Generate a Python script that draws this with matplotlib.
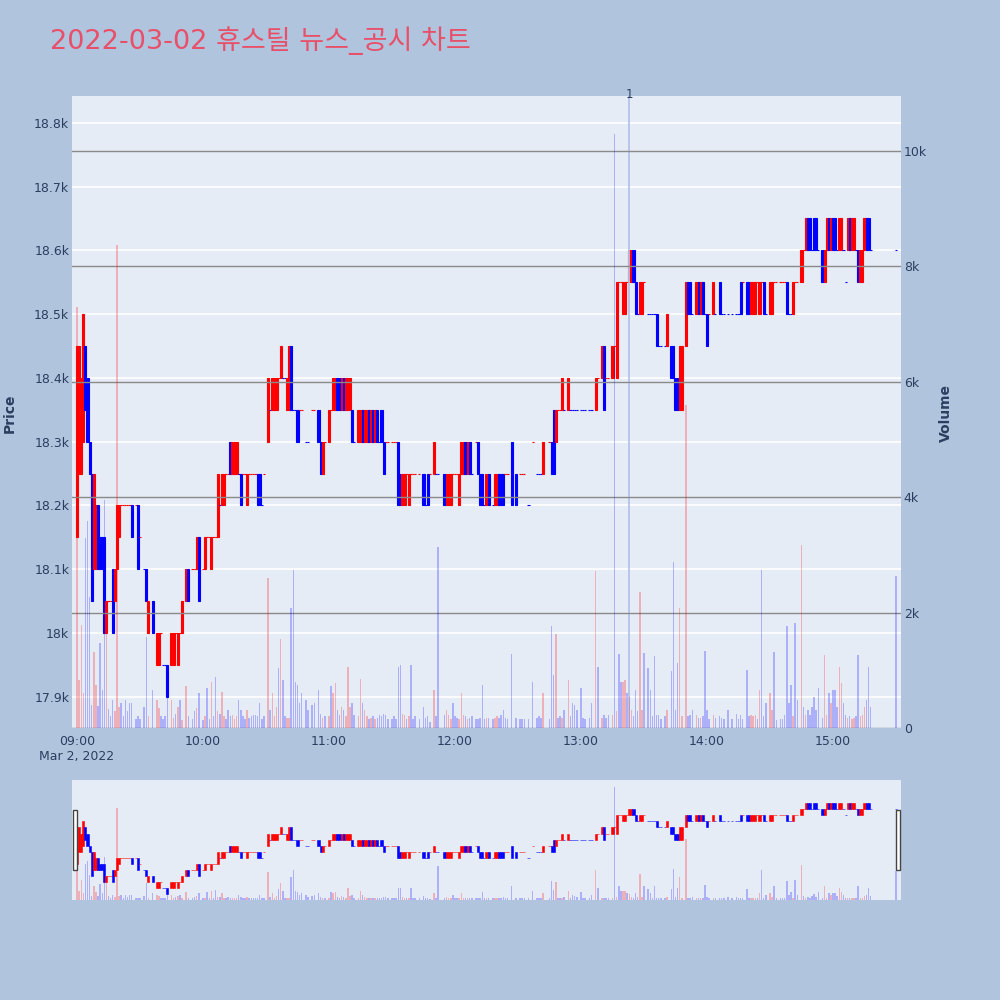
import matplotlib
matplotlib.use("Agg")
import matplotlib.pyplot as plt
from matplotlib.patches import Rectangle

N = None
# one entry per minute from 09:00 (index 0) to 15:30 (index 390)
opens = [
    18150,18250,18250,18300,18450,18400,18300,18250,18100,18100,
    18200,18150,18150,18150,18000,18050,18050,18100,18050,18100,
    18150,18200,18200,18200,18200,18200,18200,N,18200,18200,
    18150,N,18100,18100,18000,N,18050,N,17950,17950,
    18000,17950,17950,17950,N,17950,17950,18000,17950,18000,
    18000,N,18050,18100,N,18100,18100,18100,18150,N,
    18100,18100,18150,18150,18100,18150,18150,18150,18200,18200,
    18200,18250,18250,18300,18250,18250,18250,18250,18250,18250,
    18250,18200,18250,18250,18250,18250,18250,18250,18200,18250,
    N,18300,18350,18350,18350,18350,18400,18400,18400,18400,
    18350,18350,18450,18350,18350,18350,18350,18350,N,18300,
    18300,N,18350,18350,N,18350,18300,18250,18300,N,
    18300,18350,18350,18350,18400,18400,18350,18400,18350,18350,
    18350,18350,18300,N,18300,18300,18350,18300,18300,18350,
    18300,18350,18300,18350,18300,18350,18300,18300,18300,N,
    18300,18300,18300,18300,18250,18200,18200,18250,18200,18250,
    18250,18250,N,18250,N,18250,18200,18250,18250,N,
    18250,18250,18250,N,N,18250,18200,18200,18200,18250,
    18250,18250,18200,18250,18250,18300,18250,18300,18250,N,
    18300,18300,18250,18250,18200,18200,18250,N,18200,18200,
    18200,18250,18250,18250,18250,18250,N,18300,N,18250,
    N,18250,18250,18250,N,18200,N,18300,N,18250,
    18250,18250,18250,N,N,18300,18300,18350,18300,18350,
    18350,18350,18350,N,18350,18350,18350,18350,18350,N,
    18350,18350,18350,N,18350,18350,N,18350,18400,N,
    18400,18450,18400,18400,N,18400,18450,18400,18550,18550,
    18500,18500,18550,18550,18550,18600,18550,18500,18500,18500,
    18550,N,18500,18500,18500,18500,18500,18450,18450,N,
    18450,18450,N,18450,18450,18400,18400,18350,18350,N,
    18450,18550,18550,18500,N,18500,18550,18500,18550,18500,
    18500,18500,N,18500,18500,N,18550,18500,18500,N,
    18500,N,18500,N,18500,18500,18550,18550,N,18550,
    18550,18500,18500,18500,18550,18500,18550,18550,18500,N,
    18500,18500,18550,18550,N,18550,18550,18550,18550,18500,
    18500,18500,18550,18550,N,18550,18600,18600,18650,18650,
    18600,18650,18650,18600,N,18600,18550,18600,18650,18600,
    18650,18650,18600,18600,18600,18600,18550,18600,18650,18600,
    18600,18600,18600,18550,18550,18600,18650,18650,18600,N,
    N,N,N,N,N,N,N,N,N,N,
    18600,
]
closes = [
    18450,18450,18400,18500,18350,18300,18250,18050,18250,18200,
    18100,18100,18100,18000,18050,18050,18050,18000,18100,18200,
    18200,18200,18200,18200,18200,18200,18150,N,18200,18100,
    18150,N,18100,18050,18050,N,18000,N,18000,18000,
    18000,17950,17950,17900,N,18000,18000,18000,18000,18000,
    18050,N,18100,18050,N,18100,18100,18150,18050,N,
    18100,18150,18150,18150,18150,18150,18150,18250,18200,18250,
    18250,18250,18250,18250,18300,18300,18300,18250,18200,18250,
    18250,18250,18250,18250,18250,18250,18200,18200,18200,18250,
    N,18400,18350,18400,18400,18400,18400,18450,18400,18400,
    18400,18450,18350,18350,18350,18300,18350,18350,N,18300,
    18300,N,18350,18350,N,18300,18250,18300,18300,N,
    18350,18350,18400,18400,18350,18350,18400,18350,18400,18400,
    18400,18300,18300,N,18350,18350,18300,18350,18350,18300,
    18350,18300,18350,18300,18300,18300,18250,18300,18300,N,
    18300,18300,18300,18200,18200,18250,18250,18250,18250,18250,
    18250,18250,N,18250,N,18200,18200,18200,18250,N,
    18300,18250,18250,N,N,18200,18250,18250,18250,18250,
    18250,18250,18250,18300,18300,18250,18300,18250,18250,N,
    18300,18250,18200,18200,18200,18250,18200,N,18200,18250,
    18250,18200,18200,18200,18250,18250,N,18200,N,18200,
    N,18250,18250,18250,N,18200,N,18300,N,18250,
    18250,18250,18300,N,N,18300,18250,18250,18350,18350,
    18350,18400,18350,N,18400,18350,18350,18350,18350,N,
    18350,18350,18350,N,18350,18350,N,18400,18400,N,
    18450,18350,18400,18400,N,18450,18450,18550,18550,18550,
    18550,18550,18550,18600,18600,18550,18500,18500,18550,18550,
    18550,N,18500,18500,18500,18500,18450,18450,18450,N,
    18450,18500,N,18400,18400,18350,18350,18450,18450,N,
    18550,18500,18500,18500,N,18550,18500,18550,18500,18500,
    18450,18500,N,18550,18500,N,18500,18500,18500,N,
    18500,N,18500,N,18500,18500,18500,18550,N,18500,
    18500,18550,18550,18550,18550,18550,18550,18500,18500,N,
    18550,18550,18550,18550,N,18550,18550,18550,18500,18500,
    18500,18550,18550,18550,N,18600,18600,18650,18600,18600,
    18600,18600,18600,18600,N,18550,18600,18650,18600,18650,
    18600,18600,18600,18650,18650,18600,18550,18650,18600,18650,
    18650,18600,18550,18600,18600,18650,18600,18600,18600,N,
    N,N,N,N,N,N,N,N,N,N,
    18600,
]
volumes = [
    7300,830,1790,600,3290,3580,2270,400,1320,745,
    380,1470,660,3950,1770,330,215,485,300,8360,
    370,430,200,485,300,430,430,0,150,200,
    150,0,370,1580,200,0,660,0,485,350,
    200,150,200,660,0,485,165,250,370,485,
    140,0,720,200,0,150,300,350,600,0,
    140,200,700,150,800,200,890,300,250,630,
    200,150,310,200,225,150,200,485,310,200,
    150,310,165,200,225,225,200,430,150,200,
    0,2600,310,600,200,370,1040,1540,830,200,
    165,165,2080,2740,800,745,430,600,0,485,
    310,0,400,430,0,660,250,165,200,0,
    200,720,600,775,310,225,370,310,200,1060,
    370,430,225,0,200,850,430,310,200,150,
    165,200,150,165,225,200,250,230,150,0,
    150,200,150,1060,1090,250,225,150,200,1090,
    150,200,0,150,0,370,165,200,100,0,
    660,200,3140,0,0,225,310,225,150,430,
    200,165,150,600,225,200,150,165,200,0,
    150,150,165,745,150,165,165,0,150,165,
    200,165,225,310,165,150,0,1290,0,165,
    0,150,150,150,0,150,0,800,0,165,
    200,165,600,0,0,150,1770,920,1630,165,
    200,165,310,0,830,200,430,400,310,0,
    700,165,150,0,165,430,0,2720,1060,0,
    165,225,165,225,0,225,10300,300,1290,800,
    800,830,600,540,310,200,660,300,2360,310,
    1300,0,1040,660,200,1240,225,225,150,0,
    200,310,0,980,2870,310,1120,2080,200,0,
    5600,200,225,310,0,225,165,165,200,1330,
    310,150,0,225,165,0,200,165,150,0,
    310,0,150,0,250,150,225,150,0,1010,
    200,225,200,225,150,660,2740,200,430,0,
    600,310,1310,140,0,150,150,225,1770,430,
    745,200,1820,485,0,3170,370,225,310,225,
    370,540,310,700,0,165,1270,225,600,430,
    660,660,370,1060,775,430,225,165,200,150,
    165,200,1270,200,225,370,485,1060,370,0,
    0,0,0,0,0,0,0,0,0,0,
    2630,
]

price_ticks = [17900, 18000, 18100, 18200, 18300, 18400, 18500, 18600, 18700, 18800]
price_labels = ["17.9k", "18k", "18.1k", "18.2k", "18.3k", "18.4k", "18.5k", "18.6k", "18.7k", "18.8k"]
vol_ticks = [0, 2000, 4000, 6000, 8000, 10000]
vol_labels = ["0", "2k", "4k", "6k", "8k", "10k"]
hour_ticks = [0, 60, 120, 180, 240, 300, 360]
hour_labels = ["09:00\nMar 2, 2022", "10:00", "11:00", "12:00", "13:00", "14:00", "15:00"]
news_minutes = [263]
news_labels = ["1"]
title = "2022-03-02 휴스틸 뉴스_공시 차트"

PRICE_LIM = (17851, 18842)
VOL_LIM = (0, 10950)
X_LIM = (-2.4, 392.4)

BG = "#b0c4de"
PLOT_BG = "#e5ecf6"
TXT = "#2a3f5f"
UP = "#ff0000"
DOWN = "#0000ff"
VUP = (1.0, 0.0, 0.0, 0.25)
VDOWN = (0.0, 0.0, 1.0, 0.25)

# plotly-style candle direction
dirs = []
prev_c, prev_d = None, "down"
for o, c in zip(opens, closes):
    if o is None:
        dirs.append(None)
        continue
    if c > o:
        d = "up"
    elif c < o:
        d = "down"
    else:
        if prev_c is not None and c > prev_c:
            d = "up"
        elif prev_c is not None and c < prev_c:
            d = "down"
        else:
            d = prev_d
    dirs.append(d)
    prev_c, prev_d = c, d


def draw(axp, axv, body_w, lw, vol_w):
    xs, bots, hts, cols = [], [], [], []
    for i, (o, c) in enumerate(zip(opens, closes)):
        if o is None:
            continue
        xs.append(i)
        bots.append(min(o, c))
        hts.append(abs(c - o))
        cols.append(UP if dirs[i] == "up" else DOWN)
    axp.bar(xs, hts, bottom=bots, width=body_w, color=cols, edgecolor=cols,
            linewidth=lw, zorder=3)
    vx, vh, vc = [], [], []
    for i, v in enumerate(volumes):
        if v <= 0:
            continue
        up = opens[i] is not None and closes[i] > opens[i]
        vx.append(i)
        vh.append(v)
        vc.append(VUP if up else VDOWN)
    axv.bar(vx, vh, width=vol_w, color=vc, linewidth=0, zorder=3)
    axp.set_xlim(*X_LIM)
    axp.set_ylim(*PRICE_LIM)
    axv.set_ylim(*VOL_LIM)


fig = plt.figure(figsize=(10, 10), dpi=100, facecolor=BG)

ax = fig.add_axes([0.072, 0.272, 0.829, 0.632])
ax.set_facecolor(PLOT_BG)
ax2 = ax.twinx()
for a in (ax, ax2):
    for s in a.spines.values():
        s.set_visible(False)

draw(ax, ax2, 1.0, 0.8, 0.7)

ax.set_yticks(price_ticks)
ax.set_yticklabels(price_labels)
ax.grid(axis="y", color="white", linewidth=1.2, zorder=0)
ax.set_axisbelow(True)
ax.tick_params(axis="y", length=0, pad=2, labelsize=9, labelcolor=TXT)
ax.set_xticks(hour_ticks)
ax.set_xticklabels(hour_labels)
ax.tick_params(axis="x", length=0, pad=5, labelsize=9, labelcolor=TXT)

ax2.set_yticks(vol_ticks)
ax2.set_yticklabels(vol_labels)
ax2.tick_params(axis="y", length=0, pad=2, labelsize=9, labelcolor=TXT)
for t in vol_ticks:
    ax2.axhline(t, color="#8a8a8a", linewidth=1.0, zorder=1)

for m, lab in zip(news_minutes, news_labels):
    ax.axvline(m, color="#b4c3ea", linewidth=1.3, zorder=4)
    ax.text(m, PRICE_LIM[1] + 2, lab, ha="center", va="center", fontsize=8.5,
            color=TXT, zorder=5, clip_on=False)

# range slider
axs = fig.add_axes([0.072, 0.100, 0.829, 0.120])
axs.set_facecolor(PLOT_BG)
axs2 = axs.twinx()
draw(axs, axs2, 1.0, 0.4, 0.7)
for a in (axs, axs2):
    a.set_xticks([])
    a.set_yticks([])
    for s in a.spines.values():
        s.set_visible(False)

for x0 in (0.073, 0.896):
    fig.add_artist(Rectangle((x0, 0.130), 0.004, 0.060, transform=fig.transFigure,
                             facecolor="white", edgecolor="#444444", linewidth=1.0))

fig.text(0.05, 0.959, title, fontsize=19.5, color="#e8506a", ha="left", va="center",
         family=["DejaVu Sans", "Noto Sans CJK KR"])
fig.text(0.010, 0.587, "Price", rotation=90, ha="center", va="center",
         fontsize=10, fontweight="bold", color=TXT)
fig.text(0.946, 0.587, "Volume", rotation=90, ha="center", va="center",
         fontsize=10, fontweight="bold", color=TXT)

fig.savefig("out.png", dpi=100, facecolor=BG)
